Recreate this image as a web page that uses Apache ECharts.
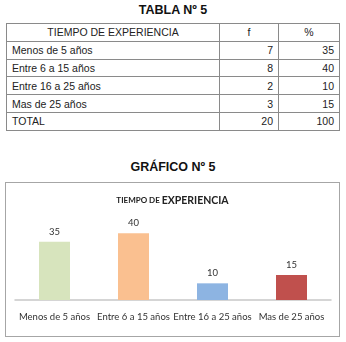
<!DOCTYPE html>
<html>
<head>
<meta charset="utf-8">
<script src="https://cdn.jsdelivr.net/npm/echarts@6/dist/echarts.min.js"></script>
<style>
  body { margin: 0; width: 346px; height: 342px; background: #fff; position: relative; font-family: "Liberation Sans", Arial, sans-serif; }
  .titulo { position: absolute; left: 0; width: 346px; text-align: center; font-weight: bold; font-size: 12.5px; color: #111; }
  table { position: absolute; left: 6px; top: 23px; width: 333px; border-collapse: collapse; table-layout: fixed; font-size: 10.5px; color: #222; }
  td { border: 1px solid #8a8a8a; height: 16.8px; padding: 0 5px; line-height: 14px; }
  td.num { text-align: right; }
  tr.head td { text-align: center; }
  #chart { position: absolute; left: 5px; top: 182px; width: 335px; height: 155px; box-sizing: border-box; border: 1px solid #a6a6a6; }
</style>
</head>
<body>
<div class="titulo" style="top:3px">TABLA Nº 5</div>
<table id="tabla">
  <colgroup><col style="width:213px"><col style="width:59px"><col style="width:61px"></colgroup>
  <tbody id="cuerpo"></tbody>
</table>
<div class="titulo" style="top:160px">GRÁFICO Nº 5</div>
<div id="chart"></div>
<script>
// datos
var categorias = ["Menos de 5 años", "Entre 6 a 15 años", "Entre 16 a 25 años", "Mas de 25 años"];
var frecuencia = [7, 8, 2, 3];
var porcentaje = [35, 40, 10, 15];
var colores = ["#d7e4bd", "#fac090", "#8db4e2", "#c0504d"];

// tabla
var html = '<tr class="head"><td>TIEMPO DE EXPERIENCIA</td><td>f</td><td>%</td></tr>';
var totalF = 0, totalP = 0;
for (var i = 0; i < categorias.length; i++) {
  html += '<tr><td>' + categorias[i] + '</td><td class="num">' + frecuencia[i] + '</td><td class="num">' + porcentaje[i] + '</td></tr>';
  totalF += frecuencia[i];
  totalP += porcentaje[i];
}
html += '<tr><td>TOTAL</td><td class="num">' + totalF + '</td><td class="num">' + totalP + '</td></tr>';
document.getElementById("cuerpo").innerHTML = html;

// grafico
var chart = echarts.init(document.getElementById("chart"));
var option = {
  animation: false,
  title: {
    text: "{a|TIEMPO DE }{b|EXPERIENCIA}",
    left: "center",
    top: 7,
    textStyle: {
      rich: {
        a: { fontSize: 8, fontWeight: "bold", fontFamily: "Lato", color: "#222" },
        b: { fontSize: 10.5, fontWeight: "bold", fontFamily: "Lato", color: "#222" }
      }
    }
  },
  grid: { left: 9, right: 8, top: 42, bottom: 36 },
  xAxis: {
    type: "category",
    data: categorias,
    axisLine: { lineStyle: { color: "#c8c8c8", width: 1.5 } },
    axisTick: { show: false },
    axisLabel: { fontFamily: "Lato", fontSize: 9.5, color: "#333", margin: 12, interval: 0 }
  },
  yAxis: {
    type: "value",
    min: 0,
    max: 45,
    show: false,
    splitLine: { show: false }
  },
  series: [{
    type: "bar",
    barWidth: 31,
    data: porcentaje.map(function (v, i) {
      return { value: v, itemStyle: { color: colores[i] } };
    }),
    label: { show: true, position: "top", distance: 5, fontFamily: "Lato", fontSize: 9.5, color: "#333" }
  }]
};
chart.setOption(option);
</script>
</body>
</html>
